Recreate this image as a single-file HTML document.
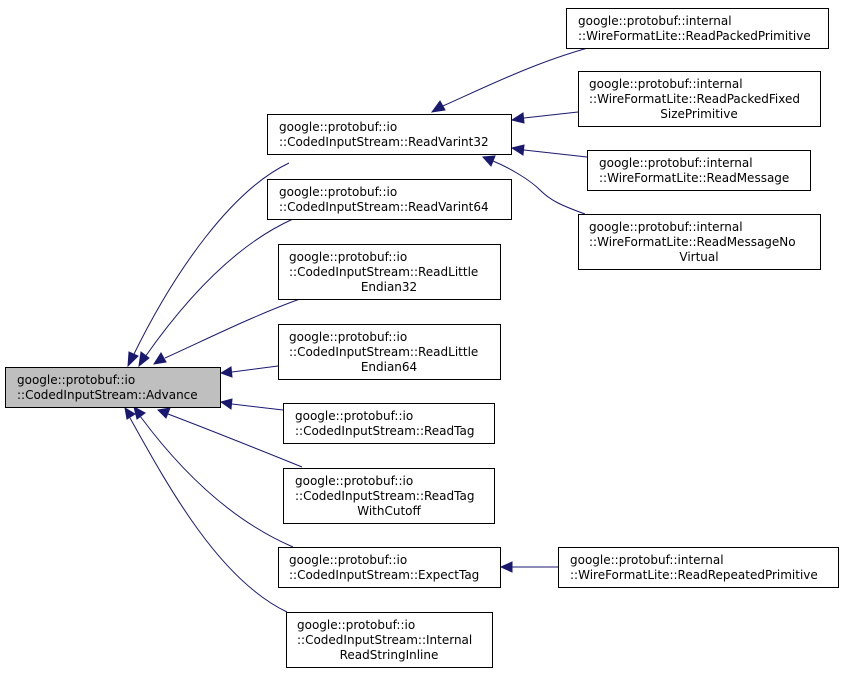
<!DOCTYPE html>
<html><head><meta charset="utf-8"><style>
html,body{margin:0;padding:0;background:#fff;}
svg{display:block}
text{font-family:"DejaVu Sans","Liberation Sans",sans-serif;font-size:12px;fill:#000}
.b{fill:#fff;stroke:#000;stroke-width:1}
.e{fill:none;stroke:#191970;stroke-width:1}
.a{fill:#191970;stroke:#191970}
</style></head><body>
<svg width="844" height="673" viewBox="0 0 844 673" xmlns="http://www.w3.org/2000/svg">
<!-- edges -->
<path class="e" d="M289,163 C232,190 175,270 133,356"/>
<polygon class="a" points="128,366 129,352 138,356"/>
<path class="e" d="M293,219 C235,245 185,300 145,357"/>
<polygon class="a" points="139,366 141,352 149,358"/>
<path class="e" d="M300,299 C255,315 205,340 165,358"/>
<polygon class="a" points="154,364 161,353 166,362"/>
<path class="e" d="M278,366 L232,372"/>
<polygon class="a" points="221,373 231,367 232,377"/>
<path class="e" d="M283,410 L232,404"/>
<polygon class="a" points="221,402 232,399 231,409"/>
<path class="e" d="M302,467 C260,450 210,430 168,414"/>
<polygon class="a" points="158,410 170,408 166,418"/>
<path class="e" d="M293,547 C230,520 180,470 140,416"/>
<polygon class="a" points="134,407 145,413 137,419"/>
<path class="e" d="M287,612 C220,580 170,490 130,418"/>
<polygon class="a" points="125,408 135,414 127,419"/>
<path class="e" d="M599,45 C540,60 490,85 443,106"/>
<polygon class="a" points="432,112 440,101 445,110"/>
<path class="e" d="M578,112 L524,118"/>
<polygon class="a" points="512,120 523,113 524,123"/>
<path class="e" d="M587,157 L524,150"/>
<polygon class="a" points="512,148 524,145 523,155"/>
<path class="e" d="M585,214 C560,205 550,200 540,190 C530,180 510,168 493,161"/>
<polygon class="a" points="483,157 495,156 491,166"/>
<path class="e" d="M558,567 L512,567"/>
<polygon class="a" points="501,567 512,562 512,572"/>
<!-- nodes -->
<rect x="5.5" y="367.5" width="215" height="40" fill="#bfbfbf" stroke="#000"/>
<text x="17" y="384">google::protobuf::io</text><text x="17" y="399">::CodedInputStream::Advance</text>

<rect class="b" x="267.5" y="114.5" width="244" height="40"/>
<text x="279" y="131">google::protobuf::io</text><text x="279" y="146">::CodedInputStream::ReadVarint32</text>

<rect class="b" x="267.5" y="179.5" width="244" height="40"/>
<text x="279" y="196">google::protobuf::io</text><text x="279" y="211">::CodedInputStream::ReadVarint64</text>

<rect class="b" x="278.5" y="244.5" width="222" height="55"/>
<text x="289" y="261">google::protobuf::io</text><text x="289" y="276">::CodedInputStream::ReadLittle</text><text x="389" y="291" text-anchor="middle">Endian32</text>

<rect class="b" x="278.5" y="324.5" width="222" height="55"/>
<text x="289" y="341">google::protobuf::io</text><text x="289" y="356">::CodedInputStream::ReadLittle</text><text x="389" y="371" text-anchor="middle">Endian64</text>

<rect class="b" x="283.5" y="403.5" width="211" height="40"/>
<text x="295" y="420">google::protobuf::io</text><text x="295" y="435">::CodedInputStream::ReadTag</text>

<rect class="b" x="283.5" y="468.5" width="211" height="55"/>
<text x="295" y="485">google::protobuf::io</text><text x="295" y="500">::CodedInputStream::ReadTag</text><text x="389" y="515" text-anchor="middle">WithCutoff</text>

<rect class="b" x="278.5" y="547.5" width="222" height="40"/>
<text x="289" y="564">google::protobuf::io</text><text x="289" y="579">::CodedInputStream::ExpectTag</text>

<rect class="b" x="286.5" y="612.5" width="206" height="55"/>
<text x="297" y="629">google::protobuf::io</text><text x="297" y="644">::CodedInputStream::Internal</text><text x="389" y="659" text-anchor="middle">ReadStringInline</text>

<rect class="b" x="566.5" y="8.5" width="262" height="40"/>
<text x="578" y="25">google::protobuf::internal</text><text x="578" y="40">::WireFormatLite::ReadPackedPrimitive</text>

<rect class="b" x="578.5" y="71.5" width="242" height="55"/>
<text x="589" y="88">google::protobuf::internal</text><text x="589" y="103">::WireFormatLite::ReadPackedFixed</text><text x="699" y="118" text-anchor="middle">SizePrimitive</text>

<rect class="b" x="587.5" y="150.5" width="223" height="40"/>
<text x="599" y="167">google::protobuf::internal</text><text x="599" y="182">::WireFormatLite::ReadMessage</text>

<rect class="b" x="578.5" y="214.5" width="242" height="55"/>
<text x="589" y="231">google::protobuf::internal</text><text x="589" y="246">::WireFormatLite::ReadMessageNo</text><text x="699" y="261" text-anchor="middle">Virtual</text>

<rect class="b" x="558.5" y="547.5" width="280" height="40"/>
<text x="570" y="564">google::protobuf::internal</text><text x="570" y="579">::WireFormatLite::ReadRepeatedPrimitive</text>
</svg>
</body></html>
